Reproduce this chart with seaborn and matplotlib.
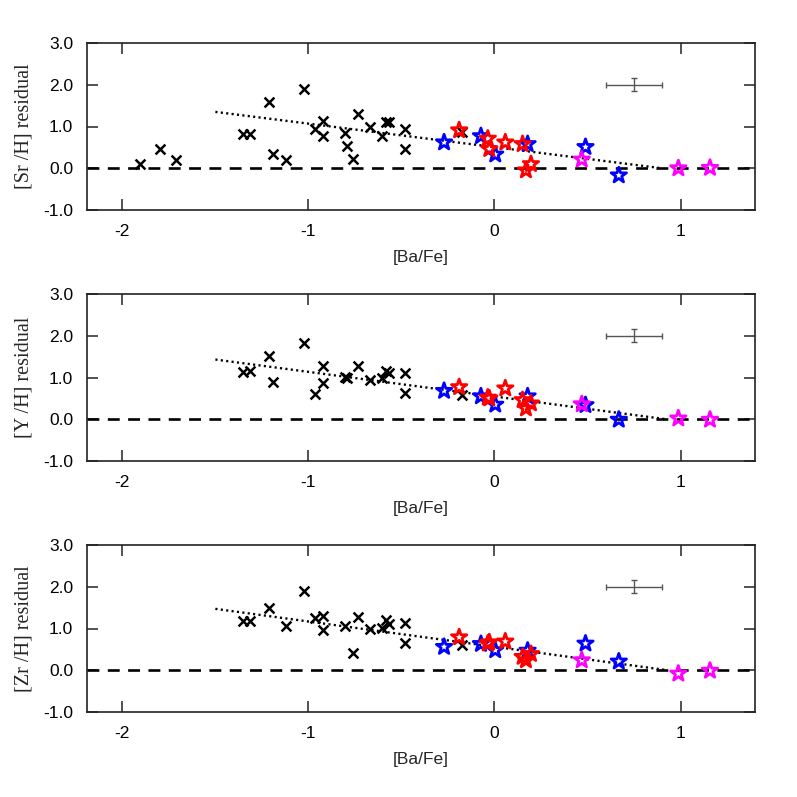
import numpy as np
import pandas as pd
import matplotlib
matplotlib.use("Agg")
import matplotlib.pyplot as plt
import seaborn as sns

sns.set_theme(style="ticks")
plt.rcParams["font.family"] = ["Liberation Sans", "DejaVu Sans"]
plt.rcParams["axes.unicode_minus"] = False

# ---------------- data ----------------
ylabels = ["[Sr /H] residual", "[Y /H] residual", "[Zr /H] residual"]
xlabel = "[Ba/Fe]"
xticks = [-2, -1, 0, 1]
yticks = [-1.0, 0.0, 1.0, 2.0, 3.0]

# black crosses
x_cross_sr = [-1.905, -1.80, -1.71, -1.354, -1.312, -1.212, -1.192, -1.121, -1.022, -0.962, -0.923, -0.923,
              -0.804, -0.794, -0.761, -0.733, -0.671, -0.603, -0.582, -0.567, -0.481, -0.481, -0.172]
y_cross_sr = [0.11, 0.45, 0.19, 0.82, 0.82, 1.58, 0.34, 0.19, 1.91, 0.95, 1.13, 0.78,
              0.85, 0.53, 0.21, 1.31, 0.98, 0.78, 1.11, 1.11, 0.93, 0.45, 0.87]
x_cross_y = [-1.354, -1.312, -1.212, -1.192, -1.022, -0.962, -0.923, -0.923, -0.804, -0.794,
             -0.733, -0.671, -0.603, -0.582, -0.567, -0.481, -0.481, -0.172]
y_cross_y = [1.13, 1.16, 1.51, 0.89, 1.83, 0.60, 1.28, 0.87, 1.01, 1.00,
             1.28, 0.94, 1.00, 1.16, 1.10, 1.11, 0.62, 0.58]
x_cross_zr = [-1.354, -1.312, -1.212, -1.121, -1.022, -0.962, -0.923, -0.923, -0.804, -0.761,
              -0.733, -0.671, -0.603, -0.582, -0.567, -0.481, -0.481, -0.172]
y_cross_zr = [1.18, 1.18, 1.49, 1.05, 1.89, 1.24, 1.30, 0.96, 1.05, 0.42,
              1.27, 0.98, 1.02, 1.20, 1.10, 1.14, 0.66, 0.60]

# blue stars
x_blue = [-0.271, -0.073, 0.004, 0.178, 0.489, 0.668]
y_blue_sr = [0.62, 0.77, 0.33, 0.58, 0.51, -0.17]
y_blue_y = [0.68, 0.55, 0.35, 0.55, 0.34, -0.01]
y_blue_zr = [0.56, 0.63, 0.48, 0.47, 0.64, 0.21]

# red stars
x_red = [-0.19, -0.036, -0.028, 0.058, 0.151, 0.169, 0.196]
y_red_sr = [0.91, 0.71, 0.46, 0.62, 0.58, -0.05, 0.10]
y_red_y = [0.77, 0.52, 0.50, 0.74, 0.46, 0.26, 0.38]
y_red_zr = [0.79, 0.64, 0.67, 0.69, 0.32, 0.24, 0.39]

# magenta stars
x_mag = [0.469, 0.988, 1.158]
y_mag_sr = [0.21, 0.00, 0.01]
y_mag_y = [0.36, 0.02, -0.01]
y_mag_zr = [0.24, -0.08, -0.01]

# linear fits (intercept, slope, x-range)
fit_intercept = [0.506, 0.545, 0.563]
fit_slope = [-0.5625, -0.59, -0.605]
fit_xstart = [-1.5, -1.5, -1.5]
fit_xend = [0.90, 0.92, 0.93]

# representative error bar
err_x, err_y, err_dx, err_dy = 0.75, 2.0, 0.15, 0.15

crosses = [(x_cross_sr, y_cross_sr), (x_cross_y, y_cross_y), (x_cross_zr, y_cross_zr)]
blues = [y_blue_sr, y_blue_y, y_blue_zr]
reds = [y_red_sr, y_red_y, y_red_zr]
mags = [y_mag_sr, y_mag_y, y_mag_zr]

# ---------------- figure ----------------
fig = plt.figure(figsize=(7.97, 7.97), dpi=100)
W, H = 797, 797
panel_tops = [43, 294, 545]
panel_h = 167
left, right = 87, 755

for i in range(3):
    top = panel_tops[i]
    ax = fig.add_axes([left / W, 1 - (top + panel_h) / H, (right - left) / W, panel_h / H])

    ax.axhline(0, color="black", lw=1.9, ls=(0, (4.5, 3.2)), zorder=1)

    fx = np.array([fit_xstart[i], fit_xend[i]])
    fy = fit_intercept[i] + fit_slope[i] * fx
    sns.lineplot(x=fx, y=fy, ax=ax, color="black", lw=1.7, ls=(0, (0.9, 1.4)), zorder=2)

    cx, cy = crosses[i]
    sns.scatterplot(x=cx, y=cy, ax=ax, marker="x", s=50, color="black", linewidth=1.8, zorder=3)
    sns.scatterplot(x=x_blue, y=blues[i], ax=ax, marker="*", s=135, color="blue",
                    facecolor="none", edgecolor="blue", linewidth=2.0, zorder=4)
    sns.scatterplot(x=x_red, y=reds[i], ax=ax, marker="*", s=135, color="red",
                    facecolor="none", edgecolor="red", linewidth=2.0, zorder=5)
    sns.scatterplot(x=x_mag, y=mags[i], ax=ax, marker="*", s=135, color="magenta",
                    facecolor="none", edgecolor="magenta", linewidth=2.0, zorder=6)

    ax.errorbar(err_x, err_y, xerr=err_dx, yerr=err_dy, fmt="none", ecolor="#555555",
                elinewidth=1.0, capsize=2.5, capthick=1.0, zorder=6)

    ax.set_xlim(-2.19, 1.40)
    ax.set_ylim(-1.0, 3.0)
    ax.set_xticks(xticks)
    ax.set_xticklabels([f"{t:d}" for t in xticks])
    ax.set_yticks(yticks)
    ax.set_yticklabels([f"{t:.1f}" for t in yticks])
    ax.tick_params(direction="in", length=8, width=1.1, top=True, right=True,
                   labelsize=12.5, pad=10, color="#222222", labelcolor="black")
    for sp in ax.spines.values():
        sp.set_linewidth(1.2)
        sp.set_color("#222222")
        sp.set_visible(True)
    ax.set_xlabel(xlabel, fontsize=12.5, labelpad=8)
    ax.set_ylabel(ylabels[i], fontsize=14.5, family=["Liberation Serif", "DejaVu Serif"], labelpad=7)
    ax.set_facecolor("white")

fig.savefig("out.png", dpi=100, facecolor="white")
